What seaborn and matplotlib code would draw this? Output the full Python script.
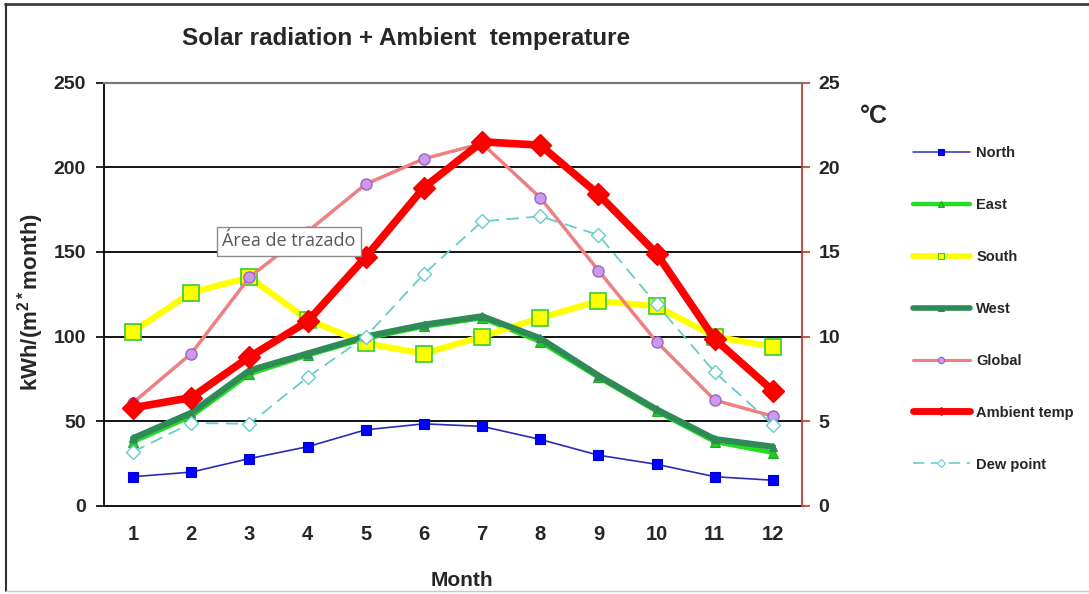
import matplotlib
matplotlib.use("Agg")
import matplotlib.pyplot as plt
import seaborn as sns
import pandas as pd
from matplotlib.lines import Line2D

# ---- data ----
months = list(range(1, 13))
month_labels = [str(m) for m in months]
north = [17.3, 20, 28, 35, 45, 48.5, 47, 39.3, 30, 24.6, 17.3, 15.2]
east = [38, 53, 78, 89, 99, 106, 111, 97, 76, 56, 38, 31.5]
south = [103, 126, 135, 110, 96, 90, 100, 111, 121, 118, 100, 94]
west = [40, 55, 80, 90, 100, 107, 112, 99, 77, 57, 39.5, 35]
global_rad = [61, 90, 135, 162, 190, 205, 214, 182, 139, 97, 62.5, 53]
ambient_temp = [5.8, 6.4, 8.8, 10.9, 14.7, 18.8, 21.5, 21.3, 18.4, 14.9, 9.85, 6.8]
dew_point = [3.2, 4.9, 4.85, 7.6, 10.0, 13.7, 16.8, 17.1, 16.0, 11.9, 7.9, 4.8]
rad_ticks = [0, 50, 100, 150, 200, 250]
temp_ticks = [0, 5, 10, 15, 20, 25]

sns.set_style("white")
plt.rcParams['font.family'] = ['Liberation Sans', 'DejaVu Sans']
plt.rcParams['mathtext.fontset'] = 'custom'
plt.rcParams['mathtext.bf'] = 'Liberation Sans:bold'
plt.rcParams['mathtext.rm'] = 'Liberation Sans'

df = pd.DataFrame({"Month": months, "North": north, "East": east, "South": south,
                   "West": west, "Global": global_rad, "Ambient temp": ambient_temp,
                   "Dew point": dew_point})

fig = plt.figure(figsize=(10.89, 5.94), dpi=100)
ax = fig.add_axes([104/1089, 1-506/594, (802-104)/1089, (506-82.5)/594])
ax2 = ax.twinx()

styles = {
    "North": dict(color="#2B2BB8", lw=1.2, marker="s", ms=7.5, mfc="#0000FF", mec="#0000CC", mew=0.8, ls="-"),
    "East": dict(color="#22DD22", lw=3.5, marker="^", ms=7, mfc="#22CC22", mec="#22AA22", mew=0.8, ls="-"),
    "South": dict(color="#FFFF00", lw=4.5, marker="s", ms=11.5, mfc="#FFFF00", mec="#33CC33", mew=1.2, ls="-"),
    "West": dict(color="#2E8B57", lw=4.5, marker="^", ms=6, mfc="#2E8B57", mec="#2E8B57", mew=0.8, ls="-"),
    "Global": dict(color="#F08080", lw=2.5, marker="o", ms=8, mfc="#CC99EE", mec="#9966BB", mew=1.0, ls="-"),
    "Ambient temp": dict(color="#FF0000", lw=5.5, marker="D", ms=11, mfc="#FF0000", mec="#EE0000", mew=1.0, ls="-"),
    "Dew point": dict(color="#66CCCC", lw=1.3, marker="D", ms=7, mfc="white", mec="#66CCCC", mew=1.0, ls=(0, (7, 4))),
}

def draw(a, name):
    s = styles[name]
    sns.lineplot(data=df, x="Month", y=name, ax=a, color=s["color"], linewidth=s["lw"],
                 marker=s["marker"], markersize=s["ms"], markerfacecolor=s["mfc"],
                 markeredgecolor=s["mec"], markeredgewidth=s["mew"], linestyle=s["ls"])

for n in ["North", "East", "South", "West", "Global"]:
    draw(ax, n)
for n in ["Ambient temp", "Dew point"]:
    draw(ax2, n)

# axes
ax.set_xlim(0.5, 12.5)
ax.set_ylim(0, 250)
ax2.set_ylim(0, 25)
ax.set_xticks(months)
ax.set_xticklabels(month_labels, fontsize=14.5, fontweight="bold")
ax.set_xticks([m + 0.5 for m in [0] + months], minor=True)
ax.tick_params(axis="x", which="major", length=0, pad=14)
ax.tick_params(axis="x", which="minor", length=6, width=1.2, color="black", direction="out")
ax.set_yticks(rad_ticks)
ax.set_yticklabels([str(t) for t in rad_ticks], fontsize=14, fontweight="bold")
ax.tick_params(axis="y", length=6, width=1.2, color="black", direction="out", pad=7, left=True)
ax2.set_yticks(temp_ticks)
ax2.set_yticklabels([str(t) for t in temp_ticks], fontsize=14, fontweight="bold")
ax2.tick_params(axis="y", length=6, width=1.2, color="#C0392B", direction="out", pad=6, right=True)
ax.set_xlabel("")
ax.set_ylabel("")
ax2.set_ylabel("")

for t in [50, 100, 150, 200]:
    ax.axhline(t, color="black", lw=1.3, zorder=0.5)

for sp in ["left", "bottom"]:
    ax.spines[sp].set_color("black")
    ax.spines[sp].set_linewidth(1.3)
ax.spines["top"].set_color("#777777")
ax.spines["top"].set_linewidth(1.5)
ax.spines["right"].set_visible(False)
ax2.spines["left"].set_visible(False)
ax2.spines["bottom"].set_visible(False)
ax2.spines["top"].set_color("#777777")
ax2.spines["top"].set_linewidth(1.5)
ax2.spines["right"].set_color("#C0392B")
ax2.spines["right"].set_linewidth(1.3)
for a in (ax, ax2):
    if a.get_legend():
        a.get_legend().remove()

# texts
fig.text(406/1089, 1-38/594, "Solar radiation + Ambient  temperature", ha="center", va="center",
         fontsize=17.5, fontweight="bold")
fig.text(462/1089, 1-580/594, "Month", ha="center", va="center", fontsize=15, fontweight="bold")
fig.text(31/1089, 1-302/594, r"kWh/(m$^{\mathbf{2*}}$month)", ha="center", va="center",
         rotation=90, fontsize=16, fontweight="bold")
fig.text(874/1089, 1-116/594, "°C", ha="center", va="center", fontsize=18, fontweight="bold")
fig.text(289/1089, 1-241.5/594, "Área de trazado", ha="center", va="center", fontsize=13,
         color="#595959", family="Open Sans",
         bbox=dict(boxstyle="square,pad=0.3", fc="white", ec="#8C8C8C", lw=1))

# legend
names = ["North", "East", "South", "West", "Global", "Ambient temp", "Dew point"]
handles = []
for n in names:
    s = styles[n]
    handles.append(Line2D([0], [0], color=s["color"], lw=s["lw"] * 0.9, ls=s["ls"], marker=s["marker"],
                          ms=4.5, mfc=s["mfc"], mec=s["mec"], mew=0.8))
fig.legend(handles, names, loc="upper left", bbox_to_anchor=(913/1089, 1-146/594), frameon=False,
           prop={"family": "Liberation Sans", "weight": "bold", "size": 10.5},
           handlelength=3.9, handletextpad=0.45, labelspacing=2.6, borderpad=0, borderaxespad=0)

# outer frame
fig.add_artist(Line2D([5/1089, 1.0], [1-4/594, 1-4/594], color="#404040", lw=2))
fig.add_artist(Line2D([6/1089, 6/1089], [1-4/594, 1-591/594], color="#303030", lw=1.5))
fig.add_artist(Line2D([6/1089, 1.0], [1-591/594, 1-591/594], color="#C8C8C8", lw=1))

fig.savefig("out.png", dpi=100)
